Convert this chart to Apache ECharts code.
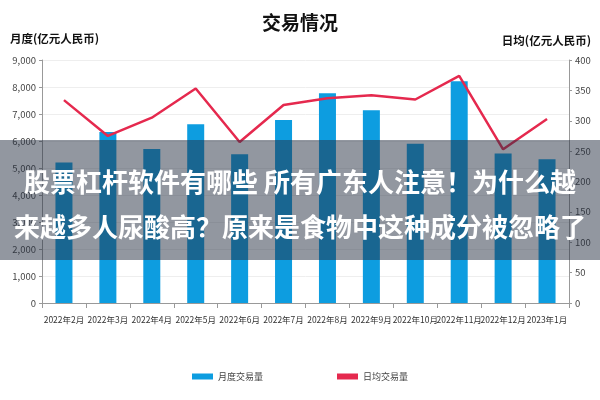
<!DOCTYPE html>
<html><head><meta charset="utf-8">
<script src="https://cdn.jsdelivr.net/npm/echarts@6/dist/echarts.min.js"></script>
<style>html,body{margin:0;padding:0;background:#fff}#c{width:600px;height:400px}</style>
</head><body><div id="c"></div>
<script>
var categories = ['2022年2月','2022年3月','2022年4月','2022年5月','2022年6月','2022年7月','2022年8月','2022年9月','2022年10月','2022年11月','2022年12月','2023年1月'];
var monthly = [5200, 6330, 5700, 6620, 5510, 6780, 7770, 7140, 5900, 8210, 5540, 5320];
var daily = [334, 275, 305, 353, 265, 326, 337, 342, 335, 374, 253, 303];
var overlayLines = ['股票杠杆软件有哪些 所有广东人注意！为什么越', '来越多人尿酸高？原来是食物中这种成分被忽略了'];
var font = '"Noto Sans CJK SC", "Liberation Sans", sans-serif';
var narrow = '"Liberation Sans Narrow", "Noto Sans CJK SC", sans-serif';
var chart = echarts.init(document.getElementById('c'));
chart.setOption({
  animation: false,
  title: {text: '交易情况', left: 'center', top: 8, textStyle: {fontSize: 19, fontWeight: 'bold', color: '#111', fontFamily: font}},
  grid: {left: 42, right: 31, top: 60, bottom: 97},
  legend: {bottom: 14, left: 'center', itemGap: 74, itemWidth: 21, itemHeight: 6,
    textStyle: {fontSize: 9, color: '#444', fontFamily: font},
    data: [{name: '月度交易量', icon: 'rect'}, {name: '日均交易量', icon: 'rect'}]},
  xAxis: {type: 'category', data: categories,
    axisLine: {lineStyle: {color: '#999'}}, axisTick: {show: true, lineStyle: {color: '#999'}},
    axisLabel: {fontSize: 8.5, color: '#333', margin: 13, interval: 0, fontFamily: narrow}},
  yAxis: [
    {type: 'value', min: 0, max: 9000, interval: 1000, name: '月度(亿元人民币)',
     nameLocation: 'end', nameGap: 0, nameTextStyle: {fontSize: 11.5, fontWeight: 'bold', color: '#111', align: 'left', padding: [0, 0, 16, -32], fontFamily: font},
     axisLine: {show: true, lineStyle: {color: '#999'}}, axisTick: {show: true, length: 3, lineStyle: {color: '#999'}},
     axisLabel: {fontSize: 9.5, color: '#444', margin: 6, fontFamily: narrow, formatter: function(v){return v.toLocaleString('en-US');}},
     splitLine: {lineStyle: {color: '#eee'}}},
    {type: 'value', min: 0, max: 400, interval: 50, name: '日均(亿元人民币)',
     nameLocation: 'end', nameGap: 0, nameTextStyle: {fontSize: 11.5, fontWeight: 'bold', color: '#111', align: 'right', padding: [0, -22, 14, 0], fontFamily: font},
     axisLine: {show: true, lineStyle: {color: '#999'}}, axisTick: {show: true, length: 3, lineStyle: {color: '#999'}},
     axisLabel: {fontSize: 9.5, color: '#444', margin: 6, fontFamily: narrow},
     splitLine: {show: false}}
  ],
  series: [
    {name: '月度交易量', type: 'bar', data: monthly, barWidth: 17, itemStyle: {color: '#0d9de0'}},
    {name: '日均交易量', type: 'line', yAxisIndex: 1, data: daily, symbol: 'none', lineStyle: {color: '#e5294e', width: 2.5}, itemStyle: {color: '#e5294e'}}
  ],
  graphic: [
    {type: 'rect', left: 0, top: 140, shape: {width: 600, height: 120}, style: {fill: 'rgba(38,48,66,0.5)'}, z: 100},
    {type: 'text', left: 'center', top: 169, z: 101, style: {text: overlayLines[0], fill: '#fff', font: 'bold 26px ' + font}},
    {type: 'text', left: 'center', top: 214, z: 101, style: {text: overlayLines[1], fill: '#fff', font: 'bold 26px ' + font}}
  ]
});
</script></body></html>
